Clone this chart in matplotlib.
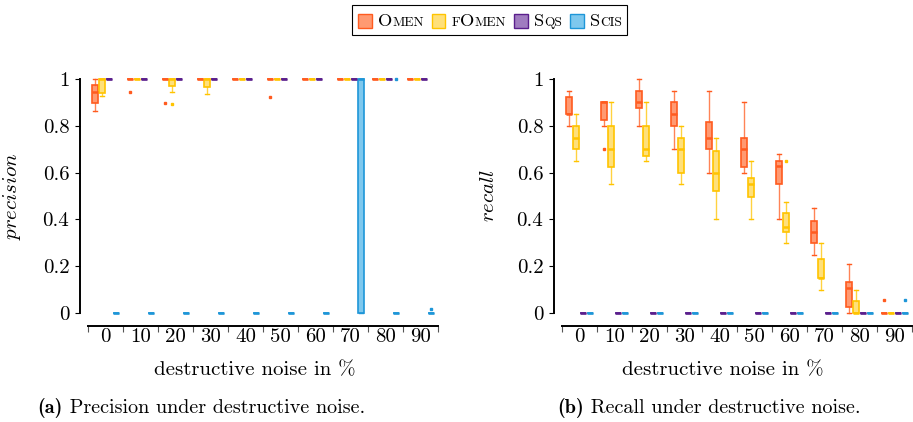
import matplotlib
matplotlib.use("Agg")
import matplotlib.pyplot as plt
import numpy as np
from matplotlib.offsetbox import TextArea, DrawingArea, HPacker, AnchoredOffsetbox
from matplotlib.patches import Rectangle

plt.rcParams["font.family"] = "cmr10"
plt.rcParams["mathtext.fontset"] = "cm"
plt.rcParams["axes.formatter.use_mathtext"] = True

# noise levels (groups)
noise = [0, 10, 20, 30, 40, 50, 60, 70, 80, 90]

# box stats per group: (whislo, q1, med, q3, whishi)
ONE = (1, 1, 1, 1, 1)
ZERO = (0, 0, 0, 0, 0)

prec_omen = [(0.863, 0.896, 0.943, 0.974, 1.0)] + [ONE] * 9
prec_omen_fliers = {1: [0.946], 2: [0.899], 5: [0.922]}
prec_fomen = [(0.927, 0.94, 1.0, 1.0, 1.0), ONE, (0.946, 0.97, 1.0, 1.0, 1.0),
              (0.936, 0.967, 1.0, 1.0, 1.0)] + [ONE] * 6
prec_fomen_fliers = {2: [0.893]}
prec_sqs = [ONE] * 10
prec_sqs_fliers = {}
prec_scis = [ZERO] * 7 + [(0, 0, 1.0, 1.0, 1.0), ZERO, ZERO]
prec_scis_fliers = {8: [1.0], 9: [0.017]}

rec_omen = [(0.8, 0.85, 0.85, 0.925, 0.95), (0.8, 0.823, 0.9, 0.9, 0.9),
            (0.8, 0.875, 0.9, 0.949, 1.0), (0.7, 0.8, 0.85, 0.9, 0.95),
            (0.6, 0.7, 0.75, 0.818, 0.95), (0.6, 0.623, 0.7, 0.75, 0.9),
            (0.4, 0.55, 0.63, 0.65, 0.68), (0.25, 0.298, 0.347, 0.393, 0.45),
            (0.0, 0.024, 0.105, 0.131, 0.209), ZERO]
rec_omen_fliers = {1: [0.7], 9: [0.055]}
rec_fomen = [(0.65, 0.7, 0.75, 0.8, 0.85), (0.55, 0.623, 0.7, 0.8, 0.9),
             (0.65, 0.672, 0.7, 0.8, 0.9), (0.55, 0.6, 0.7, 0.75, 0.8),
             (0.4, 0.523, 0.6, 0.692, 0.75), (0.4, 0.497, 0.55, 0.576, 0.65),
             (0.3, 0.348, 0.369, 0.426, 0.473), (0.1, 0.148, 0.15, 0.231, 0.3),
             (0.0, 0.0, 0.0, 0.05, 0.1), ZERO]
rec_fomen_fliers = {6: [0.65]}
rec_sqs = [ZERO] * 10
rec_sqs_fliers = {}
rec_scis = [ZERO] * 10
rec_scis_fliers = {9: [0.055]}

methods = ["Omen", "fOmen", "Sqs", "Scis"]
edge_colors = ["#FF5B1F", "#FFC400", "#5A1E8C", "#1E96D8"]
face_colors = ["#FF9A72", "#FFE07A", "#A07CC0", "#7EC8EE"]


def make_stats(rows, fliers):
    out = []
    for i, (lo, q1, med, q3, hi) in enumerate(rows):
        out.append(dict(whislo=lo, q1=q1, med=med, q3=q3, whishi=hi,
                        fliers=fliers.get(i, [])))
    return out


def draw_panel(ax, series, ylabel, label_x):
    for k, (rows, fl) in enumerate(series):
        ec, fc = edge_colors[k], face_colors[k]
        pos = np.arange(10) + 0.2 * (k + 1)
        art = ax.bxp(make_stats(rows, fl), positions=pos, widths=0.16,
                     patch_artist=True, manage_ticks=False, capwidths=0.09,
                     boxprops=dict(facecolor=fc, edgecolor=ec, linewidth=1.2),
                     medianprops=dict(color=ec, linewidth=1.8),
                     whiskerprops=dict(color=ec, linewidth=1.0, alpha=0.75),
                     capprops=dict(color=ec, linewidth=1.0),
                     flierprops=dict(marker="s", markersize=1.6,
                                     markerfacecolor=ec, markeredgecolor=ec))
        for group in art.values():
            for a in group:
                a.set_clip_on(False)

    ax.set_xlim(0, 10)
    ax.set_ylim(0, 1)
    for s in ["top", "right"]:
        ax.spines[s].set_visible(False)
    ax.spines["left"].set_position(("outward", 6))
    ax.spines["bottom"].set_position(("outward", 9))
    ax.spines["left"].set_bounds(0, 1)
    ax.spines["bottom"].set_bounds(0, 10)
    ax.spines["left"].set_linewidth(1.4)
    ax.spines["bottom"].set_linewidth(1.4)

    ax.set_yticks([0, 0.2, 0.4, 0.6, 0.8, 1.0],
                  labels=["0", "0.2", "0.4", "0.6", "0.8", "1"])
    ax.tick_params(axis="y", direction="out", length=3.5, width=0.8,
                   labelsize=15, pad=4)
    ax.set_xticks(np.arange(11), labels=[""] * 11)
    ax.set_xticks(np.arange(10) + 0.5, labels=[str(n) for n in noise], minor=True)
    ax.tick_params(axis="x", which="major", direction="out", length=4,
                   width=0.8, color="#555555")
    ax.tick_params(axis="x", which="minor", length=0, labelsize=15, pad=2)

    ax.set_ylabel(r"$\mathit{" + ylabel + "}$", fontsize=15)
    ax.yaxis.set_label_coords(label_x, 0.5)


fig = plt.figure(figsize=(9.13, 4.22), dpi=100)
ax1 = fig.add_axes([88 / 913, 109 / 422, 350 / 913, 234 / 422])
ax2 = fig.add_axes([562 / 913, 109 / 422, 350 / 913, 234 / 422])

draw_panel(ax1, [(prec_omen, prec_omen_fliers), (prec_fomen, prec_fomen_fliers),
                 (prec_sqs, prec_sqs_fliers), (prec_scis, prec_scis_fliers)],
           "precision", -0.186)
draw_panel(ax2, [(rec_omen, rec_omen_fliers), (rec_fomen, rec_fomen_fliers),
                 (rec_sqs, rec_sqs_fliers), (rec_scis, rec_scis_fliers)],
           "recall", -0.183)

fig.text(255 / 913, 1 - 370 / 422, "destructive noise in %", ha="center",
         va="center", fontsize=15)
fig.text(723 / 913, 1 - 370 / 422, "destructive noise in %", ha="center",
         va="center", fontsize=15)


def packed(parts, xy, frame=False):
    box = HPacker(children=parts, align="baseline", pad=0, sep=0)
    anchored = AnchoredOffsetbox(loc="center", child=box, pad=0.4, borderpad=0,
                                 frameon=frame, bbox_to_anchor=xy,
                                 bbox_transform=fig.transFigure)
    if frame:
        anchored.patch.set_edgecolor("black")
        anchored.patch.set_linewidth(0.8)
        anchored.patch.set_boxstyle("square", pad=0)
    fig.add_artist(anchored)


def txt(s, size, fam="cmr10"):
    return TextArea(s, textprops=dict(fontfamily=fam, fontsize=size))


def gap(w):
    return DrawingArea(w, 1, 0, 0)


# captions
packed([txt("(a)", 14.5, "cmb10"), txt(" Precision under destructive noise.", 14.5)],
       (201 / 913, 1 - 408 / 422))
packed([txt("(b)", 14.5, "cmb10"), txt(" Recall under destructive noise.", 14.5)],
       (709 / 913, 1 - 408 / 422))

# legend with small caps labels
label_parts = [[("O", 13.2), ("MEN", 9.7)],
               [("F", 9.7), ("O", 13.2), ("MEN", 9.7)],
               [("S", 13.2), ("QS", 9.7)],
               [("S", 13.2), ("CIS", 9.7)]]
parts = []
for k, lp in enumerate(label_parts):
    da = DrawingArea(11, 11, 0, 0)
    da.add_artist(Rectangle((0.5, -1), 10, 10, facecolor=face_colors[k],
                            edgecolor=edge_colors[k], linewidth=1.0))
    parts.append(da)
    parts.append(gap(4))
    for s, size in lp:
        parts.append(txt(s, size))
    if k < 3:
        parts.append(gap(5))
packed(parts, (489.5 / 913, 1 - 20 / 422), frame=True)

fig.savefig("out.png", dpi=100)
